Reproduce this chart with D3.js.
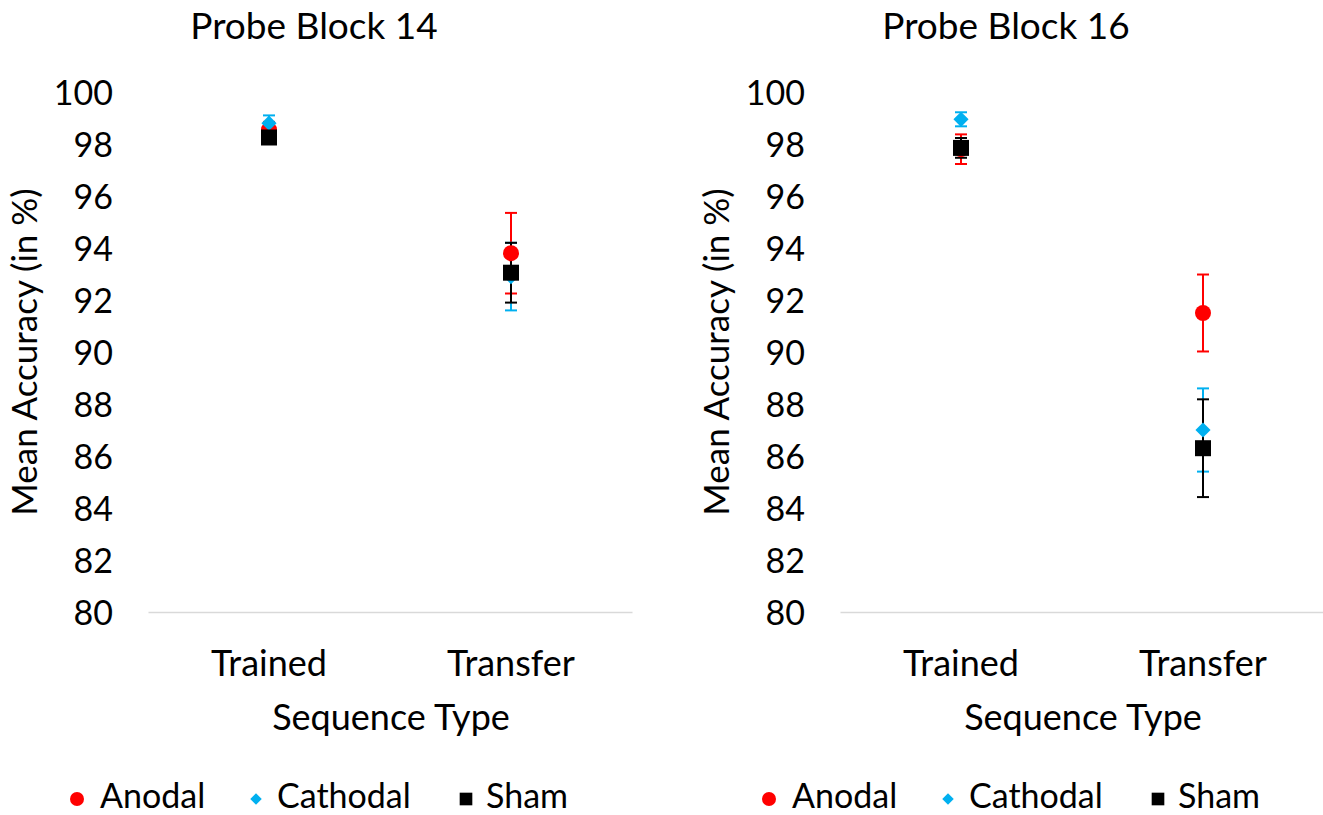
<!DOCTYPE html>
<html><head><meta charset="utf-8">
<script src="https://cdn.jsdelivr.net/npm/d3@7"></script>
<style>
html,body{margin:0;padding:0;background:#fff;}
svg text{font-family:Lato, "Open Sans", sans-serif;fill:#000;}
</style></head>
<body>
<svg id="chart" width="1323" height="815"></svg>
<script>
const categories = ["Trained", "Transfer"];
const seriesNames = ["Anodal", "Cathodal", "Sham"];
const seriesColors = ["#ff0000", "#00b0f0", "#000000"];
const yTicks = [80, 82, 84, 86, 88, 90, 92, 94, 96, 98, 100];
const panelTitles = ["Probe Block 14", "Probe Block 16"];

// Probe Block 14
const b14Anodal = [98.55, 93.8];
const b14Cathodal = [98.8, 92.9];
const b14Sham = [98.25, 93.05];
const b14AnodalErr = [0.3, 1.55];
const b14CathodalErr = [0.3, 1.3];
const b14ShamErr = [0.2, 1.15];

// Probe Block 16
const b16Anodal = [97.8, 91.5];
const b16Cathodal = [98.95, 87.0];
const b16Sham = [97.85, 86.3];
const b16AnodalErr = [0.57, 1.48];
const b16CathodalErr = [0.27, 1.6];
const b16ShamErr = [0.38, 1.88];

const panels = [
  {title: panelTitles[0], means: [b14Anodal, b14Cathodal, b14Sham], errs: [b14AnodalErr, b14CathodalErr, b14ShamErr]},
  {title: panelTitles[1], means: [b16Anodal, b16Cathodal, b16Sham], errs: [b16AnodalErr, b16CathodalErr, b16ShamErr]}
];

const svg = d3.select("#chart");
const panelOffset = 692;
const plotLeft = 148, plotRight = 632, plotTop = 92, plotBottom = 612;

const y = d3.scaleLinear().domain([80, 100]).range([plotBottom, plotTop]);
const x = d3.scaleBand().domain(categories).range([plotLeft, plotRight]).padding(0);

function markerPath(i, big) {
  if (i === 0) return d3.symbol().type(d3.symbolCircle).size(big ? Math.PI * 64 : Math.PI * 49)();
  if (i === 1) return d3.symbol().type(d3.symbolSquare).size(big ? 115 : 66)();
  return d3.symbol().type(d3.symbolSquare).size(big ? 256 : 160)();
}

panels.forEach((p, pi) => {
  const g = svg.append("g").attr("transform", `translate(${pi * panelOffset},0)`);

  g.append("text").attr("x", 314).attr("y", 39).attr("text-anchor", "middle")
    .style("font-size", "37px").text(p.title);

  const xAxis = d3.axisBottom(x).tickSize(0).tickPadding(0);
  const xg = g.append("g").attr("transform", `translate(0,${plotBottom})`).call(xAxis);
  xg.select(".domain").attr("stroke", "#d9d9d9").attr("stroke-width", 1.5);
  xg.selectAll(".tick text").attr("dy", null).attr("y", 64)
    .style("font-size", "36px").attr("fill", "#000");

  const yAxis = d3.axisLeft(y).tickValues(yTicks).tickSize(0).tickPadding(35);
  const yg = g.append("g").attr("transform", `translate(${plotLeft},0)`).call(yAxis);
  yg.select(".domain").remove();
  yg.selectAll(".tick text").style("font-size", "34px").attr("fill", "#000").attr("dy", "0.36em");

  g.append("text").attr("transform", `translate(37,${(plotTop + plotBottom) / 2}) rotate(-90)`)
    .attr("text-anchor", "middle").style("font-size", "35px").text("Mean Accuracy (in %)");

  g.append("text").attr("x", (plotLeft + plotRight) / 2 + 1).attr("y", 730).attr("text-anchor", "middle")
    .style("font-size", "36px").text("Sequence Type");

  // error bars
  const cap = 6;
  p.means.forEach((vals, si) => {
    const eg = g.append("g");
    vals.forEach((v, ci) => {
      const cx = x(categories[ci]) + x.bandwidth() / 2;
      const e = p.errs[si][ci];
      const y1 = y(v + e), y2 = y(v - e);
      eg.append("line").attr("x1", cx).attr("x2", cx).attr("y1", y1).attr("y2", y2)
        .attr("stroke", seriesColors[si]).attr("stroke-width", 2);
      [y1, y2].forEach(yy => eg.append("line").attr("x1", cx - cap).attr("x2", cx + cap)
        .attr("y1", yy).attr("y2", yy).attr("stroke", seriesColors[si]).attr("stroke-width", 2));
    });
  });
  // markers
  p.means.forEach((vals, si) => {
    vals.forEach((v, ci) => {
      const cx = x(categories[ci]) + x.bandwidth() / 2;
      g.append("path").attr("d", markerPath(si, true))
        .attr("transform", `translate(${cx},${y(v)})` + (si === 1 ? " rotate(45)" : ""))
        .attr("fill", seriesColors[si]);
    });
  });

  // legend
  const legendItems = [{mx: 77, tx: 100}, {mx: 256, tx: 277}, {mx: 466, tx: 486}];
  seriesNames.forEach((name, si) => {
    const li = legendItems[si];
    g.append("path").attr("d", markerPath(si, false))
      .attr("transform", `translate(${li.mx},799)` + (si === 1 ? " rotate(45)" : ""))
      .attr("fill", seriesColors[si]);
    g.append("text").attr("x", li.tx).attr("y", 808).style("font-size", "34px").text(name);
  });
});
</script>
</body></html>
